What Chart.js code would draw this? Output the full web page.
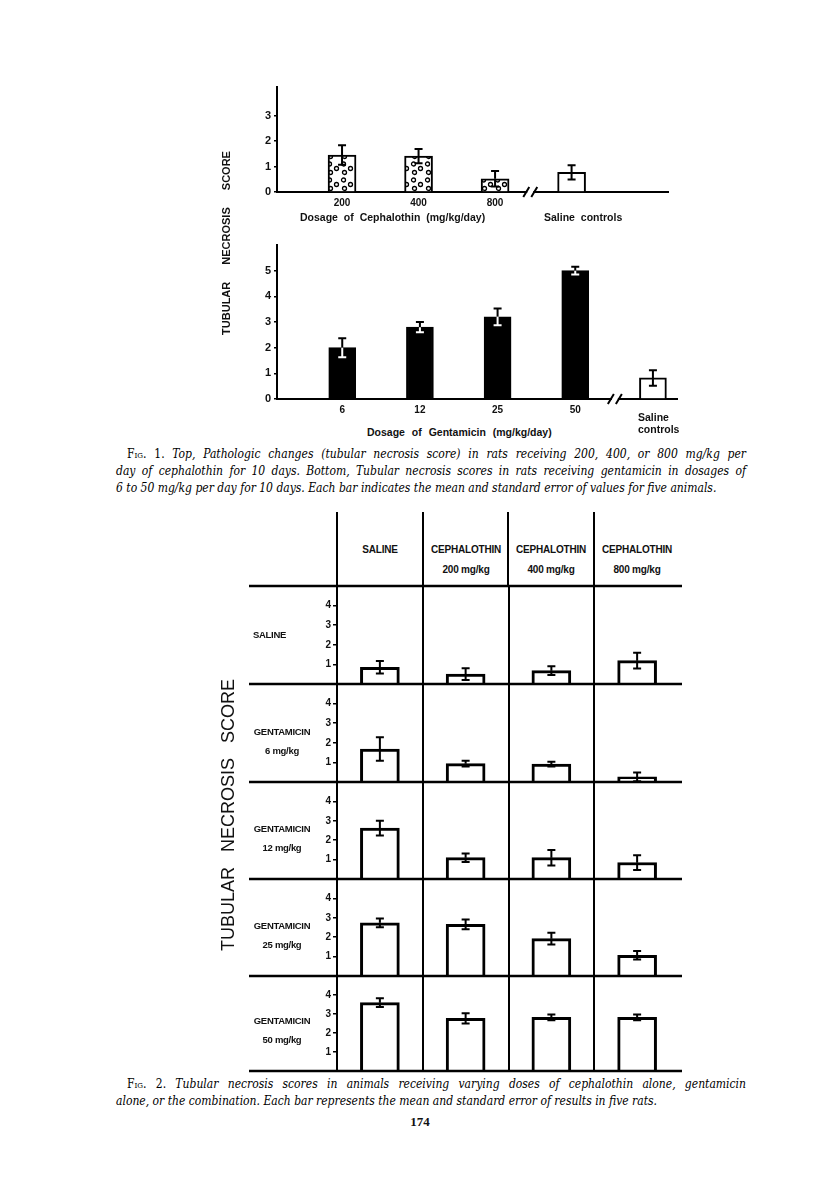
<!DOCTYPE html>
<html>
<head>
<meta charset="utf-8">
<script src="https://cdn.jsdelivr.net/npm/chart.js@4.4.1/dist/chart.umd.min.js"></script>
<style>
  body { margin: 0; background: #fff; }
  #page { position: relative; width: 816px; height: 1201px; overflow: hidden; background: #fff; }
  #page canvas { position: absolute; }
  .t { position: absolute; font-family: "Liberation Sans", Arial, sans-serif; font-weight: bold; color: #111; white-space: nowrap; }
  .cap { position: absolute; left: 116px; width: 630px; font-family: "DejaVu Serif Condensed", "DejaVu Serif", serif; font-stretch: condensed; font-style: italic; font-size: 12px; line-height: 17px; color: #000; }
  .cap div { text-align: justify; text-align-last: justify; }
  .cap div.last { text-align-last: left; }
  .sc { font-style: normal; font-variant: small-caps; }
  .vline { position: absolute; width: 2px; background: #000; }
</style>
</head>
<body>
<div id="page">
  <canvas id="cephChart" width="480" height="132" style="left:200px;top:80px"></canvas>
  <canvas id="gentChart" width="480" height="179" style="left:200px;top:240px"></canvas>

  <div class="t" style="left:116px;top:236px;width:220px;height:14px;line-height:14px;font-size:11px;text-align:center;word-spacing:14px;transform:rotate(-90deg)">TUBULAR NECROSIS SCORE</div>

  <div class="t" style="left:300px;top:211px;font-size:10.5px;word-spacing:3px">Dosage of Cephalothin (mg/kg/day)</div>
  <div class="t" style="left:544px;top:211px;font-size:10.5px;word-spacing:3px">Saline controls</div>
  <div class="t" style="left:367px;top:426px;font-size:10.5px;word-spacing:4px">Dosage of Gentamicin (mg/kg/day)</div>
  <div class="t" style="left:638px;top:411px;font-size:10.5px;line-height:12px">Saline<br>controls</div>

  <div class="cap" style="top:446px">
    <div style="padding-left:11px"><span class="sc">Fig. 1.</span> Top, Pathologic changes (tubular necrosis score) in rats receiving 200, 400, or 800 mg/kg per</div>
    <div>day of cephalothin for 10 days. Bottom, Tubular necrosis scores in rats receiving gentamicin in dosages of</div>
    <div class="last">6 to 50 mg/kg per day for 10 days. Each bar indicates the mean and standard error of values for five animals.</div>
  </div>

  <div class="t" style="left:78px;top:804px;width:300px;height:22px;line-height:22px;font-size:18px;font-weight:normal;text-align:center;word-spacing:10px;transform:rotate(-90deg)">TUBULAR NECROSIS SCORE</div>

  <div class="cap" style="top:1076px">
    <div style="padding-left:11px"><span class="sc">Fig. 2.</span> Tubular necrosis scores in animals receiving varying doses of cephalothin alone, gentamicin</div>
    <div class="last">alone, or the combination. Each bar represents the mean and standard error of results in five rats.</div>
  </div>
  <div style="position:absolute;left:400px;top:1114px;width:40px;text-align:center;font-family:'Liberation Serif',serif;font-weight:bold;font-size:13px;color:#111">174</div>
</div>

<script>
// Fig. 1 top: cephalothin alone (score, mean and SE)
const cephDoses = ['200', '400', '800'];
const cephMean = [1.45, 1.41, 0.52];
const cephSE = [0.38, 0.28, 0.30];
const cephSalineMean = 0.77;
const cephSalineSE = 0.28;
const cephTicks = [0, 1, 2, 3];

// Fig. 1 bottom: gentamicin alone
const gentDoses = ['6', '12', '25', '50'];
const gentMean = [2.0, 2.8, 3.2, 5.0];
const gentSE = [0.37, 0.20, 0.33, 0.15];
const gentSalineMean = 0.82;
const gentSalineSE = 0.30;
const gentTicks = [0, 1, 2, 3, 4, 5];

// Fig. 2: rows = gentamicin dose, columns = cephalothin dose
const colHeads = [['SALINE'], ['CEPHALOTHIN', '200 mg/kg'], ['CEPHALOTHIN', '400 mg/kg'], ['CEPHALOTHIN', '800 mg/kg']];
const rowHeads = [['SALINE'], ['GENTAMICIN', '6 mg/kg'], ['GENTAMICIN', '12 mg/kg'], ['GENTAMICIN', '25 mg/kg'], ['GENTAMICIN', '50 mg/kg']];
const salineRowMean = [0.85, 0.50, 0.68, 1.19];
const salineRowSE = [0.32, 0.30, 0.22, 0.40];
const gent6Mean = [1.68, 0.94, 0.91, 0.26];
const gent6SE = [0.60, 0.15, 0.12, 0.22];
const gent12Mean = [2.62, 1.10, 1.10, 0.85];
const gent12SE = [0.38, 0.22, 0.40, 0.38];
const gent25Mean = [2.74, 2.66, 1.93, 1.07];
const gent25SE = [0.23, 0.25, 0.30, 0.22];
const gent50Mean = [3.60, 2.77, 2.82, 2.82];
const gent50SE = [0.23, 0.27, 0.15, 0.15];
const gridTicks = [1, 2, 3, 4];

Chart.defaults.font.family = '"Liberation Sans", Arial, sans-serif';
Chart.defaults.font.weight = 'bold';
Chart.defaults.font.size = 10;
Chart.defaults.color = '#111';

// mean +/- SE whiskers; the part inside a filled bar uses ds.inner colour
const errorBars = {
  id: 'errorBars',
  afterDatasetsDraw(chart, args, opts) {
    const ctx = chart.ctx;
    const y = chart.scales.y;
    chart.data.datasets.forEach((ds, di) => {
      const meta = chart.getDatasetMeta(di);
      meta.data.forEach((bar, i) => {
        const raw = ds.data[i];
        const v = typeof raw === 'object' ? raw.y : raw;
        const hi = y.getPixelForValue(v + ds.se[i]);
        const lo = y.getPixelForValue(v - ds.se[i]);
        const h = opts.cap / 2;
        ctx.save();
        ctx.lineWidth = opts.width;
        ctx.strokeStyle = '#000';
        ctx.beginPath();
        ctx.moveTo(bar.x, hi); ctx.lineTo(bar.x, bar.y);
        ctx.moveTo(bar.x - h, hi); ctx.lineTo(bar.x + h, hi);
        ctx.stroke();
        ctx.strokeStyle = ds.inner ? ds.inner[i] : '#000';
        ctx.beginPath();
        ctx.moveTo(bar.x, bar.y); ctx.lineTo(bar.x, lo);
        ctx.moveTo(bar.x - h, lo); ctx.lineTo(bar.x + h, lo);
        ctx.stroke();
        ctx.restore();
      });
    });
  }
};

// "//" break on the x axis
const axisBreak = {
  id: 'axisBreak',
  afterDraw(chart, args, opts) {
    if (opts.at == null) return;
    const ctx = chart.ctx;
    const x = chart.scales.x.getPixelForValue(opts.at);
    const y = chart.chartArea.bottom;
    ctx.save();
    ctx.fillStyle = '#fff';
    ctx.fillRect(x - 3, y - 3, 6, 6);
    ctx.strokeStyle = '#000';
    ctx.lineWidth = 2;
    ctx.beginPath();
    ctx.moveTo(x - 7, y + 5); ctx.lineTo(x - 1, y - 5);
    ctx.moveTo(x + 1, y + 5); ctx.lineTo(x + 7, y - 5);
    ctx.stroke();
    ctx.restore();
  }
};

// horizontal table rules of fig. 2
const tableRules = {
  id: 'tableRules',
  afterDraw(chart, args, opts) {
    const ctx = chart.ctx;
    const ys = [chart.chartArea.bottom];
    if (opts.top) ys.push(chart.chartArea.top);
    ctx.save();
    ctx.strokeStyle = '#000';
    ctx.lineWidth = 2.5;
    ys.forEach(yy => {
      ctx.beginPath(); ctx.moveTo(0, yy); ctx.lineTo(chart.width, yy); ctx.stroke();
    });
    ctx.restore();
  }
};

function dotPattern(ctx) {
  const c = document.createElement('canvas');
  c.width = 14; c.height = 16;
  const g = c.getContext('2d');
  g.fillStyle = '#fff';
  g.fillRect(0, 0, 14, 16);
  g.strokeStyle = '#000';
  g.lineWidth = 1.3;
  [[3.5, 4], [10.5, 8.5], [4.5, 12.5]].forEach(p => {
    g.beginPath(); g.arc(p[0], p[1], 2, 0, Math.PI * 2); g.stroke();
  });
  return ctx.createPattern(c, 'repeat');
}

// no extra label padding above/below the y axis
function fixY(width) {
  return s => { s.width = width; s.paddingTop = 0; s.paddingBottom = 0; };
}

function doseChart(id, labels, means, ses, fills, inner, ticks, ax) {
  const canvas = document.getElementById(id);
  return new Chart(canvas, {
    type: 'bar',
    data: {
      datasets: [{
        data: means.map((v, i) => ({ x: i, y: v })),
        se: ses,
        inner: inner,
        backgroundColor: fills,
        borderColor: '#000',
        borderWidth: 2,
        borderSkipped: 'start',
        barThickness: ax.bar
      }]
    },
    options: {
      responsive: false,
      animation: false,
      layout: { padding: ax.pad },
      plugins: {
        legend: { display: false },
        tooltip: { enabled: false },
        errorBars: { cap: 8, width: 2 },
        axisBreak: { at: ax.brk }
      },
      scales: {
        x: {
          type: 'linear', offset: false, min: ax.xmin, max: ax.xmax,
          grid: { display: false, drawTicks: false },
          border: { color: '#000', width: 2 },
          afterBuildTicks: s => { s.ticks = labels.map((l, i) => ({ value: i })); },
          afterFit: s => { s.height = 20; s.paddingLeft = 0; s.paddingRight = 0; },
          ticks: { padding: 5, maxRotation: 0, autoSkip: false, callback: v => labels[v] }
        },
        y: {
          min: 0, max: ax.ymax,
          afterBuildTicks: s => { s.ticks = ticks.map(v => ({ value: v })); },
          afterFit: fixY(77),
          border: { color: '#000', width: 2 },
          grid: { drawOnChartArea: false, tickLength: 3, color: '#000', lineWidth: 1.5 },
          ticks: { padding: 3, font: { size: 11 } }
        }
      }
    },
    plugins: [errorBars, axisBreak]
  });
}

const cephCtx = document.getElementById('cephChart').getContext('2d');
const dots = dotPattern(cephCtx);
doseChart('cephChart',
  [...cephDoses, ''],
  [...cephMean, cephSalineMean],
  [...cephSE, cephSalineSE],
  [...cephDoses.map(() => dots), '#fff'],
  null,
  cephTicks,
  { xmin: -0.85, xmax: 4.26, ymax: 4.12, brk: 2.46, bar: 28, pad: { top: 7, right: 12, left: 0, bottom: 0 } });

doseChart('gentChart',
  [...gentDoses, ''],
  [...gentMean, gentSalineMean],
  [...gentSE, gentSalineSE],
  [...gentDoses.map(() => '#000'), '#fff'],
  [...gentDoses.map(() => '#fff'), '#000'],
  gentTicks,
  { xmin: -0.84, xmax: 4.31, ymax: 6, brk: 3.51, bar: 27, pad: { top: 5, right: 3, left: 0, bottom: 0 } });

// ---- Fig. 2 table ----
const page = document.getElementById('page');
const rowEdges = [586, 684, 782, 879, 976, 1071];
const colEdges = [337, 423, 508, 594];
const rowMeans = [salineRowMean, gent6Mean, gent12Mean, gent25Mean, gent50Mean];
const rowSEs = [salineRowSE, gent6SE, gent12SE, gent25SE, gent50SE];

colEdges.forEach((x, i) => {
  const l = document.createElement('div');
  l.className = 'vline';
  l.style.cssText = `left:${x - 1}px;top:512px;height:75px`;
  page.appendChild(l);
  const h = document.createElement('div');
  h.className = 't';
  h.style.cssText = `left:${x}px;top:540px;width:86px;text-align:center;font-size:10px;line-height:20px;letter-spacing:-0.2px`;
  h.innerHTML = colHeads[i].join('<br>');
  page.appendChild(h);
});

rowMeans.forEach((means, r) => {
  const top = rowEdges[r], bottom = rowEdges[r + 1];
  const cv = document.createElement('canvas');
  cv.width = 433;
  cv.height = bottom - top + 4;
  cv.style.left = '249px';
  cv.style.top = (top - 2) + 'px';
  page.appendChild(cv);

  const lab = document.createElement('div');
  lab.className = 't';
  lab.style.cssText = r === 0
    ? `left:253px;top:${bottom - 56}px;font-size:9.5px;letter-spacing:-0.3px;line-height:14px`
    : `left:249px;top:${bottom - 60}px;width:66px;text-align:center;font-size:9.5px;letter-spacing:-0.3px;line-height:19px`;
  lab.innerHTML = rowHeads[r].join('<br>');
  page.appendChild(lab);

  new Chart(cv, {
    type: 'bar',
    data: {
      labels: colHeads.map(c => c.join(' ')),
      datasets: [{
        data: means,
        se: rowSEs[r],
        backgroundColor: '#fff',
        borderColor: '#000',
        borderWidth: 3,
        borderSkipped: 'start',
        barThickness: 39
      }]
    },
    options: {
      responsive: false,
      animation: false,
      layout: { padding: { top: 2, bottom: 2, left: 0, right: 2 } },
      plugins: {
        legend: { display: false },
        tooltip: { enabled: false },
        errorBars: { cap: 8, width: 2 },
        tableRules: { top: r === 0 }
      },
      scales: {
        x: {
          offset: true,
          grid: { offset: true, drawTicks: false, lineWidth: 2,
                  color: c => (c.tick ? '#000' : 'rgba(0,0,0,0)') },
          border: { display: false },
          ticks: { display: false },
          afterFit: s => { s.height = 0; s.paddingLeft = 0; s.paddingRight = 0; }
        },
        y: {
          min: 0, max: 5,
          afterBuildTicks: s => { s.ticks = gridTicks.map(v => ({ value: v })); },
          afterFit: fixY(88),
          border: { color: '#000', width: 2 },
          grid: { drawOnChartArea: false, tickLength: 4, color: '#000', lineWidth: 1.5 },
          ticks: { padding: 2, font: { size: 10 } }
        }
      }
    },
    plugins: [errorBars, tableRules]
  });
});
</script>
</body>
</html>
